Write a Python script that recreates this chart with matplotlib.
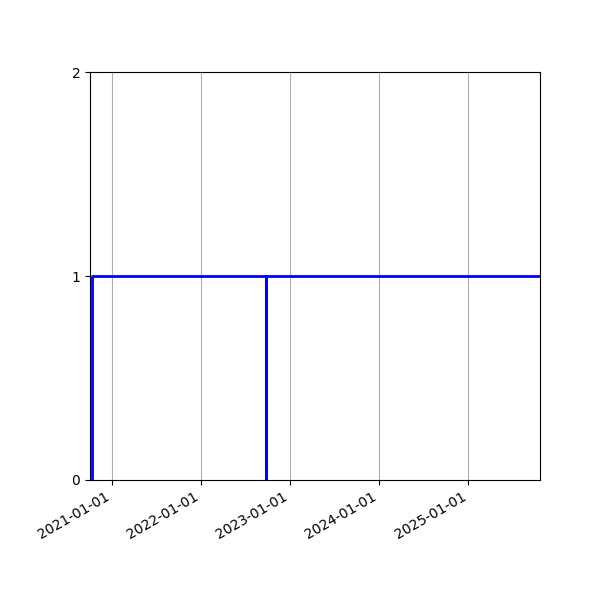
import matplotlib
matplotlib.use("Agg")
import matplotlib.pyplot as plt
import matplotlib.dates as mdates
import numpy as np

# step signal: jumps to 1, drops to 0 once, back to 1
dates = np.array(["2020-10-09", "2020-10-09", "2022-09-23", "2022-09-23",
                  "2022-09-23", "2025-10-22"], dtype="datetime64[D]")
values = [0, 1, 1, 0, 1, 1]
x_start = np.datetime64("2020-10-02")
x_end = np.datetime64("2025-10-22")
y_ticks = [0, 1, 2]


def main():
    fig, ax = plt.subplots(figsize=(6, 6), dpi=100)
    ax.plot(dates, values, color="blue", linewidth=2)
    ax.set_xlim(x_start, x_end)
    ax.set_ylim(0, 2)
    ax.set_yticks(y_ticks)
    ax.xaxis.set_major_locator(mdates.YearLocator())
    ax.xaxis.set_major_formatter(mdates.DateFormatter("%Y-%m-%d"))
    ax.grid(axis="x")
    fig.autofmt_xdate()
    fig.subplots_adjust(left=0.15, right=0.9, top=0.88, bottom=0.2)
    fig.savefig("out.png", dpi=100)
    plt.close(fig)


if __name__ == "__main__":
    main()
